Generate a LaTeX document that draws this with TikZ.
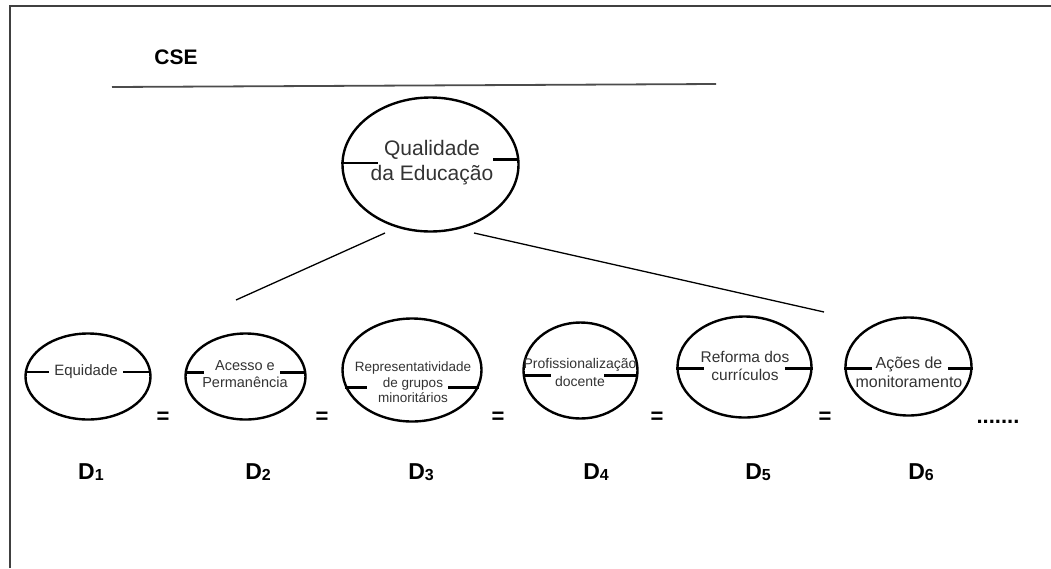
\documentclass[tikz,border=0pt]{standalone}
\usepackage{fontspec}
\setmainfont{Liberation Sans}
\usetikzlibrary{shapes.geometric}
\begin{document}
\begin{tikzpicture}[x=1pt,y=-1pt,
    dim/.style={ellipse,draw,line width=2.4pt,inner sep=0pt},
    divider/.style={line width=2.8pt},
    txt/.style={text=black!80,align=center,inner sep=0pt},
    link/.style={line width=1.3pt},
    eq/.style={font=\fontsize{22}{22}\selectfont\bfseries,inner sep=0pt},
    dlab/.style={font=\fontsize{23}{23}\selectfont\bfseries,inner sep=0pt}]
\useasboundingbox (0,0) rectangle (1051,568);
\draw[black!75,line width=2pt] (10,568) -- (10,6) -- (1051,6);
\node[font=\fontsize{21}{21}\selectfont\bfseries,inner sep=0pt] (cse) at (176,57) {CSE};
\draw[black!70,line width=1.8pt] (112,87) -- (716,84);

\node[dim,minimum width=176pt,minimum height=134pt] (top) at (430.5,164.5) {};
\node[txt,font=\fontsize{21}{25}\selectfont] (ttop) at (432,163) {Qualidade\\da Educação};
\draw[divider] (top.179) -- ++(37,0) (top.3) -- ++(-26,0);

\node[dim,minimum width=125pt,minimum height=86pt] (e1) at (88,376.5) {};
\node[txt,font=\fontsize{15}{17}\selectfont] (t1) at (86,372) {Equidade};
\draw[divider] (e1.176) -- ++(24,0) (e1.4) -- ++(-28,0);

\node[dim,minimum width=120pt,minimum height=86pt] (e2) at (245.5,376.5) {};
\node[txt,font=\fontsize{14.5}{17}\selectfont] (t2) at (245,374.5) {Acesso e\\Permanência};
\draw[divider] (e2.176) -- ++(19,0) (e2.4) -- ++(-26,0);

\node[dim,minimum width=139pt,minimum height=103pt] (e3) at (412,370) {};
\node[txt,font=\fontsize{13.5}{15.5}\selectfont] (t3) at (413,382.5) {Representatividade\\de grupos\\minoritários};
\draw[divider] (e3.195) -- ++(22,0) (e3.-15) -- ++(-31,0);

\node[dim,minimum width=114pt,minimum height=96pt] (e4) at (580.5,370.5) {};
\node[txt,font=\fontsize{14}{18}\selectfont] (t4) at (580,372) {Profissionalização\\docente};
\draw[divider] (e4.185.5) -- ++(28,0) (e4.-5.5) -- ++(-34,0);

\node[dim,minimum width=134pt,minimum height=101pt] (e5) at (744.5,367) {};
\node[txt,font=\fontsize{15.5}{18}\selectfont] (t5) at (745,366) {Reforma dos\\currículos};
\draw[divider] (e5.181.7) -- ++(28,0) (e5.-1.7) -- ++(-28,0);

\node[dim,minimum width=126pt,minimum height=98pt] (e6) at (908.5,366.5) {};
\node[txt,font=\fontsize{16}{19}\selectfont] (t6) at (909,372.5) {Ações de\\monitoramento};
\draw[divider] (e6.182.3) -- ++(28,0) (e6.-2.3) -- ++(-25,0);

\coordinate (ql) at (385,233);
\coordinate (dl) at (236,300);
\coordinate (qr) at (474,233);
\coordinate (dr) at (824,312);
\draw[link] (ql) -- (dl);
\draw[link] (qr) -- (dr);

\node[eq] (q1) at (163,418) {=};
\node[eq] (q2) at (322,418) {=};
\node[eq] (q3) at (498,418) {=};
\node[eq] (q4) at (657,418) {=};
\node[eq] (q5) at (825,418) {=};
\node[eq] (dots) at (998,422) {.......};

\node[dlab] (d1) at (91,472) {D{\fontsize{16}{16}\selectfont\raisebox{-1pt}{1}}};
\node[dlab] (d2) at (258,472) {D{\fontsize{16}{16}\selectfont\raisebox{-1pt}{2}}};
\node[dlab] (d3) at (421,472) {D{\fontsize{16}{16}\selectfont\raisebox{-1pt}{3}}};
\node[dlab] (d4) at (596,472) {D{\fontsize{16}{16}\selectfont\raisebox{-1pt}{4}}};
\node[dlab] (d5) at (758,472) {D{\fontsize{16}{16}\selectfont\raisebox{-1pt}{5}}};
\node[dlab] (d6) at (921,472) {D{\fontsize{16}{16}\selectfont\raisebox{-1pt}{6}}};
\end{tikzpicture}
\end{document}
